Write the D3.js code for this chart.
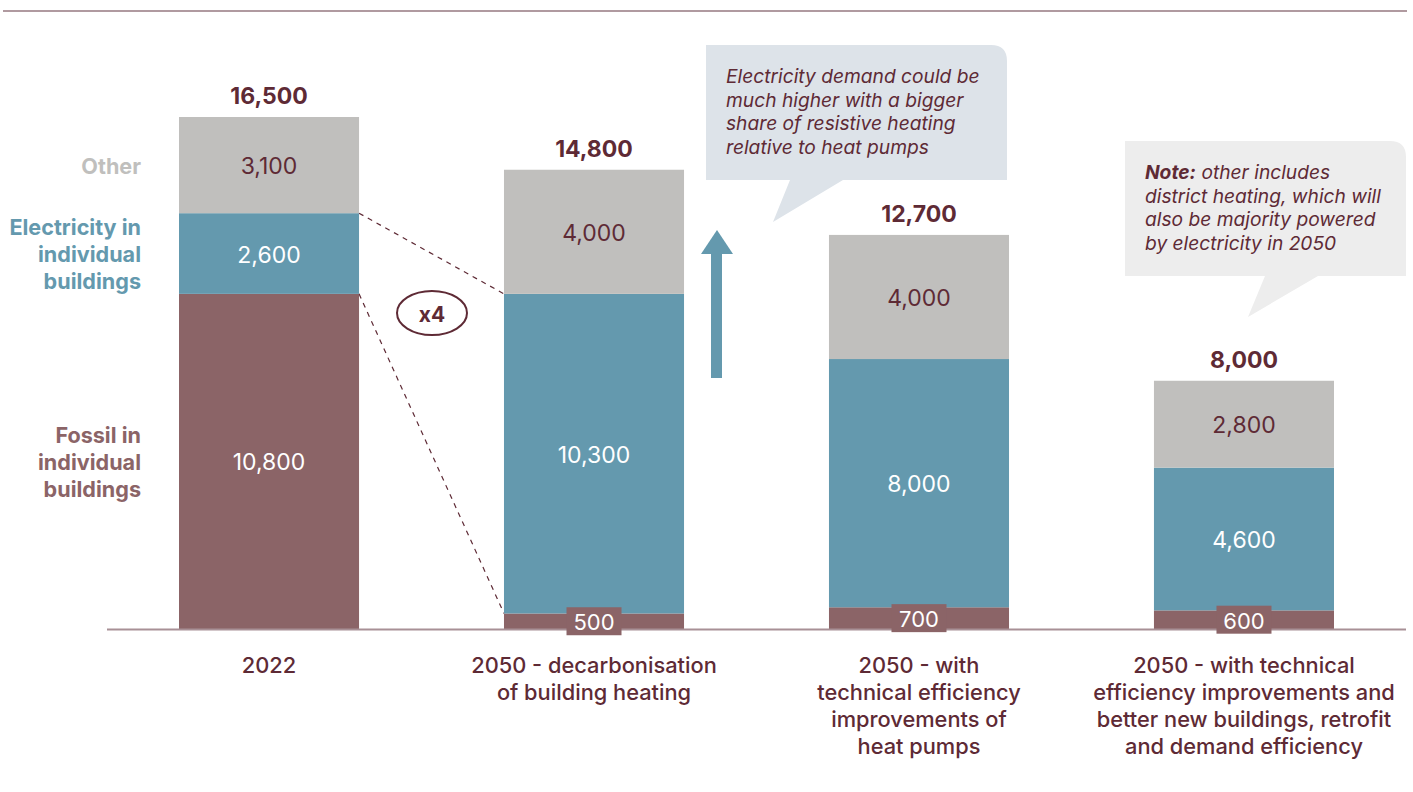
<!DOCTYPE html>
<html>
<head>
<meta charset="utf-8">
<script src="https://cdn.jsdelivr.net/npm/d3@7"></script>
<style>
  html, body { margin: 0; padding: 0; background: #fff; }
  svg { display: block; font-family: Inter, "Noto Sans", sans-serif; }
</style>
</head>
<body>
<svg id="chart" width="1413" height="792"></svg>
<script>
// ---- data ----
const categories = ["2022", "2050a", "2050b", "2050c"];
const categoryLabels = [
  ["2022"],
  ["2050 - decarbonisation", "of building heating"],
  ["2050 - with", "technical efficiency", "improvements of", "heat pumps"],
  ["2050 - with technical", "efficiency improvements and", "better new buildings, retrofit", "and demand efficiency"]
];
const fossil = [10800, 500, 700, 600];
const electricity = [2600, 10300, 8000, 4600];
const other = [3100, 4000, 4000, 2800];
const totals = [16500, 14800, 12700, 8000];
const seriesKeys = ["fossil", "electricity", "other"];
const seriesNames = {
  other: ["Other"],
  electricity: ["Electricity in", "individual", "buildings"],
  fossil: ["Fossil in", "individual", "buildings"]
};
const callout1 = ["Electricity demand could be", "much higher with a bigger", "share of resistive heating", "relative to heat pumps"];
const callout2Bold = "Note:";
const callout2 = [" other includes", "district heating, which will", "also be majority powered", "by electricity in 2050"];
const multiplierLabel = "x4";

// ---- styles ----
const colors = { fossil: "#8b6467", electricity: "#6499ae", other: "#c0bfbd" };
const textDark = "#5e2a35";
const fmt = d3.format(",");

const svg = d3.select("#chart");

const rows = categories.map((c, i) => ({ cat: c, fossil: fossil[i], electricity: electricity[i], other: other[i], total: totals[i] }));
const stacked = d3.stack().keys(seriesKeys)(rows);

const x = d3.scaleBand().domain(categories).range([179, 1334]).paddingInner(0.446).paddingOuter(0);
const y = d3.scaleLinear().domain([0, 16500]).range([629, 117]);

// top rule
svg.append("line").attr("x1", 3).attr("x2", 1407).attr("y1", 11).attr("y2", 11)
  .attr("stroke", "#b09aa0").attr("stroke-width", 2);

// callouts
function calloutPath(x0, y0, x1, y1, r, t1, t2, tip) {
  return `M${x0},${y0} H${x1 - r} Q${x1},${y0} ${x1},${y0 + r} V${y1} H${t2} L${tip[0]},${tip[1]} L${t1},${y1} H${x0} Z`;
}
svg.append("path").attr("d", calloutPath(706, 45, 1007, 180, 16, 790, 843, [773, 222])).attr("fill", "#dde3e9");
svg.append("path").attr("d", calloutPath(1125, 141, 1406, 276, 16, 1265, 1318, [1248, 317])).attr("fill", "#ededed");

const c1 = svg.append("text").attr("font-size", 19.2).attr("font-style", "italic").attr("fill", textDark);
callout1.forEach((l, i) => c1.append("tspan").attr("x", 726).attr("y", 76 + i * 23.7).attr("dominant-baseline", "central").text(l));
const c2 = svg.append("text").attr("font-size", 19.2).attr("font-style", "italic").attr("fill", textDark);
callout2.forEach((l, i) => {
  const t = c2.append("tspan").attr("y", 172 + i * 23.5).attr("dominant-baseline", "central");
  if (i === 0) {
    t.attr("x", 1145).attr("font-weight", 700).text(callout2Bold);
    c2.append("tspan").attr("dominant-baseline", "central").text(l);
  } else {
    t.attr("x", 1145).text(l);
  }
});

// dashed connectors between 2022 and 2050a electricity
const e0 = stacked[1][0], e1 = stacked[1][1];
const xr0 = x(categories[0]) + x.bandwidth(), xl1 = x(categories[1]);
[[e0[1], e1[1]], [e0[0], e1[0]]].forEach(([a, b]) => {
  svg.append("line").attr("x1", xr0).attr("y1", y(a)).attr("x2", xl1).attr("y2", y(b))
    .attr("stroke", textDark).attr("stroke-width", 1.2).attr("stroke-dasharray", "5,5");
});

// bars
const g = svg.append("g");
stacked.forEach(s => {
  g.selectAll(null).data(s).join("rect")
    .attr("x", d => x(d.data.cat))
    .attr("width", x.bandwidth())
    .attr("y", d => y(d[1]))
    .attr("height", d => y(d[0]) - y(d[1]))
    .attr("fill", colors[s.key]);
});

// baseline
svg.append("line").attr("x1", 107).attr("x2", 1406).attr("y1", y(0) + 0.5).attr("y2", y(0) + 0.5)
  .attr("stroke", "#a89096").attr("stroke-width", 2);

// segment labels
stacked.forEach(s => {
  s.forEach((d, i) => {
    const cx = x(d.data.cat) + x.bandwidth() / 2;
    const cy = (y(d[0]) + y(d[1])) / 2;
    const val = d[1] - d[0];
    const small = (y(d[0]) - y(d[1])) < 30;
    if (small) {
      svg.append("rect").attr("x", cx - 27.5).attr("y", cy - 14).attr("width", 55).attr("height", 28)
        .attr("fill", colors[s.key]);
    }
    svg.append("text").attr("x", cx).attr("y", cy + 1).attr("text-anchor", "middle")
      .attr("dominant-baseline", "central").attr("font-size", small ? 22 : 23)
      .attr("fill", s.key === "other" ? textDark : "#ffffff").text(fmt(val));
  });
});

// totals
rows.forEach(r => {
  svg.append("text").attr("x", x(r.cat) + x.bandwidth() / 2).attr("y", y(r.total) - 21)
    .attr("text-anchor", "middle").attr("dominant-baseline", "central")
    .attr("font-size", 23).attr("font-weight", 700).attr("fill", textDark).text(fmt(r.total));
});

// series labels on left (positioned at 2022 segments)
stacked.forEach(s => {
  const d = s[0];
  const cy = (y(d[0]) + y(d[1])) / 2;
  const lines = seriesNames[s.key];
  const t = svg.append("text").attr("text-anchor", "end").attr("font-size", 21.6).attr("font-weight", 700)
    .attr("fill", colors[s.key]);
  lines.forEach((l, i) => t.append("tspan").attr("x", 141)
    .attr("y", cy + (i - (lines.length - 1) / 2) * 27 + (s.key === "electricity" ? 0 : 1))
    .attr("dominant-baseline", "central").text(l));
});

// category labels
categories.forEach((c, i) => {
  const t = svg.append("text").attr("text-anchor", "middle").attr("font-size", 21.8).attr("font-weight", 500)
    .attr("fill", textDark);
  categoryLabels[i].forEach((l, j) => t.append("tspan").attr("x", x(c) + x.bandwidth() / 2)
    .attr("y", 665 + j * 27).attr("dominant-baseline", "central").text(l));
});

// x4 ellipse
svg.append("ellipse").attr("cx", 432).attr("cy", 313).attr("rx", 35).attr("ry", 22)
  .attr("fill", "none").attr("stroke", textDark).attr("stroke-width", 2);
svg.append("text").attr("x", 432).attr("y", 314).attr("text-anchor", "middle").attr("dominant-baseline", "central")
  .attr("font-size", 21).attr("font-weight", 700).attr("fill", textDark).text(multiplierLabel);

// arrow
svg.append("rect").attr("x", 711).attr("y", 253).attr("width", 11).attr("height", 125).attr("fill", colors.electricity);
svg.append("path").attr("d", "M701,254 L733,254 L717,230 Z").attr("fill", colors.electricity);
</script>
</body>
</html>
